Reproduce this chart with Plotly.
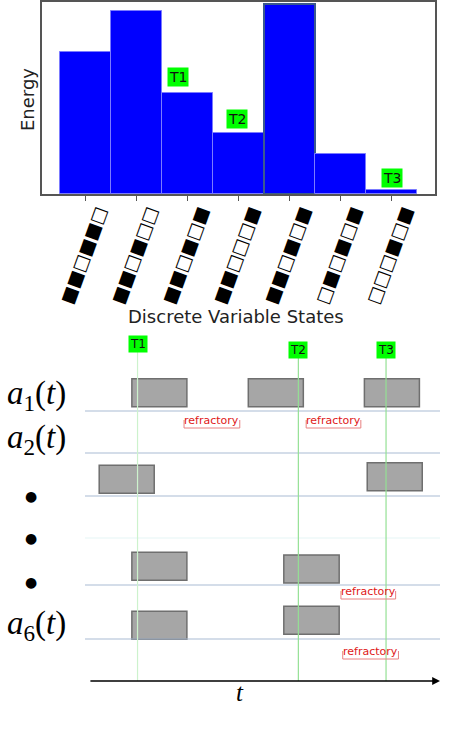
import plotly.graph_objects as go

# ---- top panel: energy of each discrete state ----
state_idx = [0, 1, 2, 3, 4, 5, 6]
energy = [142, 183, 101, 61, 190, 40, 4]
# bottom-to-top reading of each rotated column of squares (filled / empty)
state_labels = ["■■□■■□", "■■□■□□", "■■□■□■", "■■□□□■", "■■□■□■", "□■□■□■", "□□□■□■"]
top_marks = ["T1", "T2", "T3"]
top_mark_x = [1.81, 2.97, 6.0]
top_mark_y = [117, 75, 16]

# ---- bottom panel: activity of units over time ----
row_levels = [289, 247, 204, 162, 115, 61]
row_line_colors = ["#a9bcd3", "#a9bcd3", "#a9bcd3", "#e6f6f6", "#a9bcd3", "#a9bcd3"]
row_labels = ["<i>a</i><sub>1</sub>(<i>t</i>)", "<i>a</i><sub>2</sub>(<i>t</i>)",
              "●", "●", "●", "<i>a</i><sub>6</sub>(<i>t</i>)"]
row_label_y = [305, 261, 204, 162, 118, 75]
spike_start = [13.2, 46.0, 78.7, 4.0, 79.5, 13.2, 56.0, 13.2, 56.0]
spike_end = [28.7, 61.5, 94.2, 19.5, 95.0, 28.7, 71.6, 28.7, 71.6]
spike_bottom = [293.3, 293.3, 293.3, 206.7, 209.3, 119.7, 117.0, 60.7, 65.7]
event_names = ["T1", "T2", "T3"]
event_t = [14.8, 60.1, 84.8]
event_label_y = [356, 350.5, 350.5]
refr_start = [27.9, 62.3, 72.1, 72.6]
refr_end = [43.6, 77.7, 87.5, 88.3]
refr_y = [280, 280, 109, 49]

fig = go.Figure()

line_cols = ["#7b7bff"] * 7
line_w = [1] * 7
line_cols[4] = "#3b5a8e"
line_w[4] = 2
fig.add_trace(go.Bar(x=state_idx, y=energy, width=1, xaxis="x", yaxis="y",
                     marker=dict(color="#0000ff", line=dict(color=line_cols, width=line_w)),
                     showlegend=False, hoverinfo="skip"))

shapes = []
annotations = []

for name, x, y in zip(top_marks, top_mark_x, top_mark_y):
    annotations.append(dict(x=x, y=y, xref="x", yref="y", text=name, showarrow=False,
                            bgcolor="#00ff00", borderpad=1,
                            font=dict(family="DejaVu Sans", size=14, color="#111")))

annotations.append(dict(x=28 / 472, y=1 - 100 / 738, xref="paper", yref="paper", text="Energy",
                        textangle=-90, showarrow=False, xanchor="center", yanchor="middle",
                        font=dict(family="DejaVu Sans", size=18, color="#222")))
annotations.append(dict(x=0.5, y=1 - 316 / 738, xref="paper", yref="paper",
                        text="Discrete Variable States", showarrow=False,
                        xanchor="center", yanchor="middle",
                        font=dict(family="DejaVu Sans", size=18, color="#222")))

# row base lines
for lvl, col in zip(row_levels, row_line_colors):
    shapes.append(dict(type="line", xref="x2", yref="y2", x0=0, x1=100, y0=lvl, y1=lvl,
                       line=dict(color=col, width=1.2)))

# event lines
for name, t, ly in zip(event_names, event_t, event_label_y):
    col = "#cdf2cd" if name == "T1" else "#95e095"
    shapes.append(dict(type="line", xref="x2", yref="y2", x0=t, x1=t, y0=19, y1=ly - 6,
                       line=dict(color=col, width=1.2), layer="above"))
    annotations.append(dict(x=t, y=ly, xref="x2", yref="y2", text=name, showarrow=False,
                            bgcolor="#00ff00", borderpad=1,
                            font=dict(family="DejaVu Sans", size=12, color="#111")))

# active periods
for s, e, b in zip(spike_start, spike_end, spike_bottom):
    shapes.append(dict(type="rect", xref="x2", yref="y2", x0=s, x1=e, y0=b, y1=b + 28,
                       fillcolor="#a6a6a6", line=dict(color="#6f6f6f", width=1.5), layer="below"))

# refractory brackets
for s, e, y in zip(refr_start, refr_end, refr_y):
    shapes.append(dict(type="path", xref="x2", yref="y2",
                       path=f"M {s},{y} L {s},{y - 8} L {e},{y - 8} L {e},{y}",
                       line=dict(color="#e88080", width=1)))
    annotations.append(dict(x=(s + e) / 2, y=y, xref="x2", yref="y2", text="refractory",
                            showarrow=False,
                            font=dict(family="DejaVu Sans", size=11, color="#e01818")))

# row labels
for lab, y in zip(row_labels, row_label_y):
    is_dot = lab == "●"
    annotations.append(dict(x=(31 if is_dot else 36) / 472, y=y, xref="paper", yref="y2",
                            text=lab, showarrow=False, xanchor="center", yanchor="middle",
                            font=dict(family="Liberation Serif" if not is_dot else "DejaVu Sans",
                                      size=14 if is_dot else 33, color="black")))

# time arrow
annotations.append(dict(x=100, y=19, ax=1.1, ay=19, xref="x2", yref="y2", axref="x2", ayref="y2",
                        text="", showarrow=True, arrowhead=2, arrowsize=1.2, arrowwidth=1.3,
                        arrowcolor="black"))
annotations.append(dict(x=43.7, y=8, xref="x2", yref="y2", text="<i>t</i>", showarrow=False,
                        font=dict(family="Liberation Serif", size=25, color="black")))

fig.update_layout(
    width=472, height=738,
    margin=dict(l=0, r=0, t=0, b=0),
    paper_bgcolor="white", plot_bgcolor="white",
    bargap=0,
    xaxis=dict(domain=[42 / 472, 435 / 472], range=[-0.85, 6.85],
               tickvals=state_idx, ticktext=state_labels, tickangle=-70,
               tickfont=dict(family="DejaVu Sans", size=18, color="black"),
               ticklabelshift=13, ticklabelstandoff=-7,
               ticks="outside", ticklen=5, tickcolor="#555",
               showline=True, linecolor="#555", linewidth=1.5, mirror=True,
               showgrid=False, zeroline=False, fixedrange=True),
    yaxis=dict(domain=[1 - 194 / 738, 1 - 2 / 738], range=[0, 192],
               showticklabels=False, ticks="",
               showline=True, linecolor="#555", linewidth=1.5, mirror=True,
               showgrid=False, zeroline=False),
    xaxis2=dict(domain=[85 / 472, 440 / 472], range=[0, 100], anchor="y2",
                visible=False),
    yaxis2=dict(domain=[1 - 700 / 738, 1 - 330 / 738], range=[0, 370], anchor="x2",
                visible=False),
    shapes=shapes,
    annotations=annotations,
)

fig.write_html("out.html", config={"displayModeBar": False},
               post_script="document.body.style.margin='0';")
